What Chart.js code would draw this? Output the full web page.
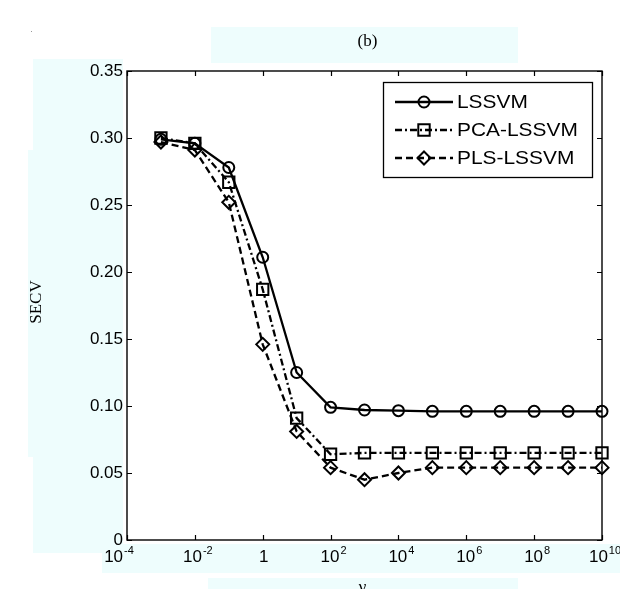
<!DOCTYPE html>
<html>
<head>
<meta charset="utf-8">
<script src="https://cdn.jsdelivr.net/npm/chart.js@4/dist/chart.umd.min.js"></script>
<style>
  html, body { margin: 0; padding: 0; background: #ffffff; }
  #wrap { position: relative; width: 620px; height: 589px; }
</style>
</head>
<body>
<div id="wrap"><canvas id="c" width="620" height="589"></canvas></div>
<script>
// Regularisation parameter gamma (x values)
const gammaValues = [1e-3, 1e-2, 1e-1, 1, 1e1, 1e2, 1e3, 1e4, 1e5, 1e6, 1e7, 1e8, 1e9, 1e10];
// SECV for each model
const lssvm    = [0.299, 0.296, 0.278, 0.211, 0.125, 0.099, 0.097, 0.0965, 0.096, 0.096, 0.096, 0.096, 0.096, 0.096];
const pcaLssvm = [0.300, 0.296, 0.267, 0.187, 0.091, 0.064, 0.065, 0.065, 0.065, 0.065, 0.065, 0.065, 0.065, 0.065];
const plsLssvm = [0.297, 0.291, 0.252, 0.146, 0.081, 0.054, 0.045, 0.050, 0.054, 0.054, 0.054, 0.054, 0.054, 0.054];
const seriesNames = ['LSSVM', 'PCA-LSSVM', 'PLS-LSSVM'];
// Axis ticks
const xTickExponents = [-4, -2, 0, 2, 4, 6, 8, 10];
const yTicks = [0, 0.05, 0.10, 0.15, 0.20, 0.25, 0.30, 0.35];
const yTickLabels = ['0', '0.05', '0.10', '0.15', '0.20', '0.25', '0.30', '0.35'];
const titleText = '(b)';
const xTitle = 'γ';
const yTitle = 'SECV';

const PANEL_BG = 'rgb(238,253,253)';
const SANS = '"Liberation Sans", Arial, sans-serif';
const SERIF = '"Liberation Serif", "Times New Roman", serif';
const LINE_W = 2.3;
const MARK_W = 2;

function toPoints(values) {
  return gammaValues.map((g, i) => ({ x: g, y: values[i] }));
}

function baseDataset(label, values, style, radius, dash) {
  return {
    label: label,
    data: toPoints(values),
    borderColor: '#000',
    backgroundColor: 'rgba(0,0,0,0)',
    borderWidth: LINE_W,
    borderDash: dash,
    pointStyle: style,
    pointRadius: radius,
    pointHoverRadius: radius,
    pointBorderWidth: MARK_W,
    pointBorderColor: '#000',
    pointBackgroundColor: 'rgba(0,0,0,0)',
    tension: 0,
    fill: false,
    clip: false
  };
}

// Open marker shapes for the legend samples
function drawMarker(ctx, style, x, y) {
  ctx.save();
  ctx.setLineDash([]);
  ctx.lineWidth = MARK_W;
  ctx.strokeStyle = '#000';
  ctx.beginPath();
  if (style === 'circle') {
    ctx.arc(x, y, 5.5, 0, Math.PI * 2);
  } else if (style === 'rect') {
    ctx.rect(x - 5.7, y - 5.7, 11.4, 11.4);
  } else {
    ctx.moveTo(x, y - 6.5); ctx.lineTo(x + 6.5, y); ctx.lineTo(x, y + 6.5); ctx.lineTo(x - 6.5, y); ctx.closePath();
  }
  ctx.stroke();
  ctx.restore();
}

function drawPower(ctx, x, baseline, exp) {
  if (exp === 0) {
    ctx.font = '17px ' + SANS;
    ctx.textAlign = 'center';
    ctx.fillText('1', x + 1, baseline);
    return;
  }
  ctx.textAlign = 'left';
  ctx.font = '17px ' + SANS;
  const wb = ctx.measureText('10').width;
  ctx.font = '11px ' + SANS;
  const es = String(exp);
  const we = ctx.measureText(es).width;
  const shift = exp === -4 ? -8 : 3;
  const start = x - (wb + we + 1) / 2 + shift;
  ctx.font = '17px ' + SANS;
  ctx.fillText('10', start, baseline);
  ctx.font = '11px ' + SANS;
  ctx.fillText(es, start + wb + 1, baseline - 8);
}

const decor = {
  id: 'decor',
  beforeDraw(chart) {
    const ctx = chart.ctx;
    ctx.save();
    ctx.fillStyle = '#ffffff';
    ctx.fillRect(0, 0, chart.width, chart.height);
    ctx.fillStyle = PANEL_BG;
    ctx.fillRect(211, 27, 307, 36);   // title panel
    ctx.fillRect(33, 59, 90, 494);    // y tick label panel
    ctx.fillRect(28, 150, 95, 307);   // y title panel
    ctx.fillRect(102, 544, 518, 29);  // x tick label panel
    ctx.fillRect(208, 578, 310, 11);  // x title panel
    ctx.fillStyle = '#999';
    ctx.fillRect(31, 31, 1, 1);
    ctx.restore();
  },
  afterDraw(chart) {
    const ctx = chart.ctx;
    const a = chart.chartArea;
    const xs = chart.scales.x, ys = chart.scales.y;
    ctx.save();
    ctx.strokeStyle = '#000';
    ctx.lineWidth = 1.4;
    ctx.setLineDash([]);
    // box frame
    ctx.strokeRect(a.left, a.top, a.right - a.left, a.bottom - a.top);
    // inward ticks on all four sides
    ctx.lineWidth = 1.2;
    ctx.beginPath();
    xTickExponents.forEach(e => {
      const px = Math.round(xs.getPixelForValue(Math.pow(10, e))) + 0.5;
      ctx.moveTo(px, a.bottom); ctx.lineTo(px, a.bottom - 5);
      ctx.moveTo(px, a.top); ctx.lineTo(px, a.top + 5);
    });
    yTicks.forEach(v => {
      const py = Math.round(ys.getPixelForValue(v)) + 0.5;
      ctx.moveTo(a.left, py); ctx.lineTo(a.left + 5, py);
      ctx.moveTo(a.right, py); ctx.lineTo(a.right - 5, py);
    });
    ctx.stroke();

    // tick labels
    ctx.fillStyle = '#000';
    ctx.font = '17px ' + SANS;
    ctx.textAlign = 'right';
    ctx.textBaseline = 'middle';
    yTicks.forEach((v, i) => {
      const py = ys.getPixelForValue(v);
      ctx.fillText(yTickLabels[i], a.left - 4, py);
    });
    ctx.textBaseline = 'alphabetic';
    xTickExponents.forEach(e => {
      drawPower(ctx, xs.getPixelForValue(Math.pow(10, e)), 562, e);
    });

    // titles
    ctx.font = '17px ' + SERIF;
    ctx.textAlign = 'center';
    ctx.textBaseline = 'middle';
    ctx.fillText(titleText, (a.left + a.right) / 2 + 3, 42);
    ctx.textBaseline = 'alphabetic';
    ctx.fillText(xTitle, (a.left + a.right) / 2 - 2, 592);
    ctx.save();
    ctx.translate(37, 302);
    ctx.rotate(-Math.PI / 2);
    ctx.textBaseline = 'middle';
    ctx.fillText(yTitle, 0, 0);
    ctx.restore();

    // legend
    const lx = 383, ly = 82, lw = 209, lh = 95;
    ctx.fillStyle = '#fff';
    ctx.fillRect(lx, ly, lw, lh);
    ctx.lineWidth = 1.3;
    ctx.strokeStyle = '#000';
    ctx.strokeRect(lx + 0.5, ly + 0.5, lw, lh);
    const rows = [102, 130, 158];
    chart.data.datasets.forEach((ds, i) => {
      const ry = rows[i];
      ctx.save();
      ctx.lineWidth = ds.borderWidth;
      ctx.setLineDash(ds.borderDash);
      ctx.beginPath();
      ctx.moveTo(395, ry); ctx.lineTo(453, ry);
      ctx.stroke();
      ctx.restore();
      drawMarker(ctx, ds.pointStyle, 424, ry);
      ctx.save();
      ctx.fillStyle = '#000';
      ctx.font = '19px ' + SANS;
      ctx.textAlign = 'left';
      ctx.textBaseline = 'middle';
      ctx.translate(457, ry);
      ctx.scale(1.1, 1);
      ctx.fillText(ds.label, 0, 1);
      ctx.restore();
    });
    ctx.restore();
  }
};

new Chart(document.getElementById('c'), {
  type: 'line',
  data: {
    datasets: [
      baseDataset(seriesNames[0], lssvm, 'circle', 5.5, []),
      baseDataset(seriesNames[1], pcaLssvm, 'rect', 8, [7, 3, 2, 3]),
      baseDataset(seriesNames[2], plsLssvm, 'rectRot', 6.5, [7, 4])
    ]
  },
  options: {
    responsive: false,
    animation: false,
    devicePixelRatio: 1,
    layout: { padding: { left: 127, right: 18, top: 71, bottom: 49 } },
    plugins: { legend: { display: false }, tooltip: { enabled: false } },
    events: [],
    scales: {
      x: { type: 'logarithmic', min: 1e-4, max: 1e10, display: false },
      y: { type: 'linear', min: 0, max: 0.35, display: false }
    }
  },
  plugins: [decor]
});
</script>
</body>
</html>
